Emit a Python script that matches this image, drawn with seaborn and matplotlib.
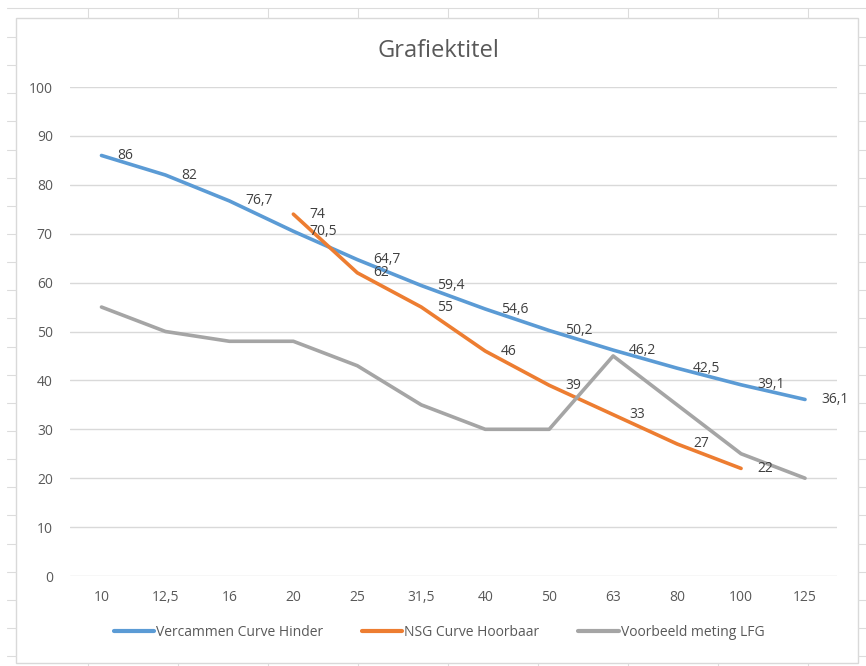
import numpy as np
import pandas as pd
import seaborn as sns
import matplotlib
matplotlib.use('Agg')
import matplotlib.pyplot as plt
from matplotlib.lines import Line2D
from matplotlib.patches import Rectangle

# --- DATA ---
FREQS = ['10', '12,5', '16', '20', '25', '31,5', '40', '50', '63', '80', '100', '125']
VERCAMMEN = [86, 82, 76.7, 70.5, 64.7, 59.4, 54.6, 50.2, 46.2, 42.5, 39.1, 36.1]
NSG = [np.nan, np.nan, np.nan, 74, 62, 55, 46, 39, 33, 27, 22, np.nan]
VOORBEELD = [55, 50, 48, 48, 43, 35, 30, 30, 45, 35, 25, 20]
SERIES = ['Vercammen Curve Hinder', 'NSG Curve Hoorbaar', 'Voorbeeld meting LFG']
COLORS = ['#5B9BD5', '#ED7D31', '#A5A5A5']
SHOW_LABELS = [True, True, False]
TITLE = 'Grafiektitel'

# --- STYLE ---
W, H = 866, 666
sns.set_theme(style='white')
plt.rcParams['font.family'] = ['Open Sans', 'DejaVu Sans']
TEXT = '#595959'
GRID = '#D9D9D9'


def fx(x):
    return x / W


def fy(y):
    return 1 - y / H


values = [VERCAMMEN, NSG, VOORBEELD]
df = pd.DataFrame({
    'freq': FREQS * len(SERIES),
    'value': np.concatenate(values),
    'serie': np.repeat(SERIES, len(FREQS)),
})

fig = plt.figure(figsize=(W / 100, H / 100), dpi=100)
fig.patch.set_facecolor('white')
ax = fig.add_axes([fx(69.5), fy(576), fx(837) - fx(69.5), fy(87) - fy(576)])

sns.lineplot(data=df, x='freq', y='value', hue='serie', hue_order=SERIES,
             palette=COLORS, sort=False, linewidth=2.6, legend=False, ax=ax)
for line in ax.get_lines():
    line.set_solid_capstyle('round')
    line.set_solid_joinstyle('round')

# data labels (to the right of each point)
for vals, show in zip(values, SHOW_LABELS):
    if not show:
        continue
    for i, v in enumerate(vals):
        if np.isnan(v):
            continue
        ax.annotate(f'{v:g}'.replace('.', ','), (i, v), xytext=(11.5, 0),
                    textcoords='offset points', ha='left', va='center',
                    fontsize=10, color='#404040')

ax.set_xlim(-0.5, len(FREQS) - 0.5)
ax.set_ylim(0, 100)
ax.set_yticks(range(0, 101, 10))
ax.set_xlabel('')
ax.set_ylabel('')
ax.grid(axis='y', color=GRID, lw=1)
ax.grid(axis='x', visible=False)
ax.set_axisbelow(True)
for s in ax.spines.values():
    s.set_visible(False)
ax.tick_params(axis='both', length=0, labelsize=10, labelcolor=TEXT)
ax.tick_params(axis='x', pad=10)
ax.tick_params(axis='y', pad=12)
ax.set_facecolor('white')

fig.text(fx(438), fy(57), TITLE, ha='center', va='baseline', fontsize=17, color=TEXT)

handles = [Line2D([], [], color=c, lw=3) for c in COLORS]
fig.legend(handles, SERIES, loc='center', bbox_to_anchor=(fx(439), fy(632)),
           ncol=3, frameon=False, fontsize=10, handlelength=2.9,
           handletextpad=0.15, columnspacing=2.8, labelcolor=TEXT)

# chart border and the spreadsheet grid around it
fig.add_artist(Rectangle((fx(15.5), fy(663)), fx(858) - fx(15.5), fy(18) - fy(663),
                         transform=fig.transFigure, fill=False, ec=GRID, lw=1))
sheet = dict(color='#DCDCDC', lw=0.8, transform=fig.transFigure)
fig.add_artist(Line2D([fx(7), fx(866)], [fy(8), fy(8)], **sheet))
for k in range(9):
    cx = 88 + 90 * k
    fig.add_artist(Line2D([fx(cx), fx(cx)], [fy(8), fy(18)], **sheet))
    fig.add_artist(Line2D([fx(cx), fx(cx)], [fy(663), fy(666)], **sheet))
for k in range(23):
    ry = 37 + 28.14 * k
    fig.add_artist(Line2D([fx(7), fx(15.5)], [fy(ry), fy(ry)], **sheet))
    fig.add_artist(Line2D([fx(858), fx(866)], [fy(ry), fy(ry)], **sheet))

fig.savefig('out.png', dpi=100, facecolor='white')
